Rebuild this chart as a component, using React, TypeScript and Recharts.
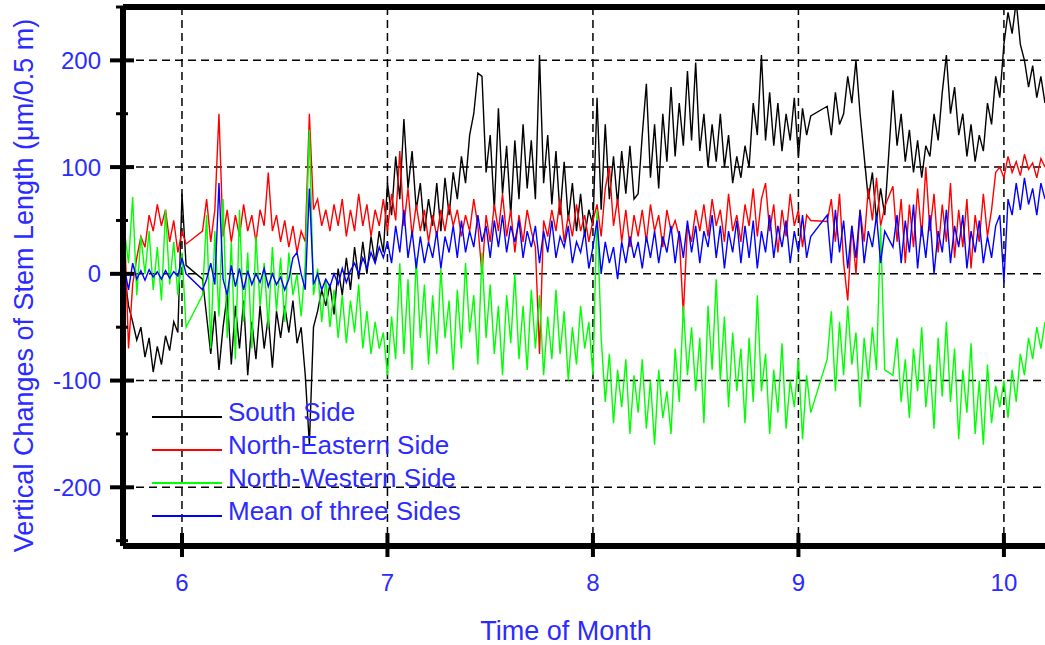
import { LineChart, Line, XAxis, YAxis, CartesianGrid, ReferenceLine, Legend } from 'recharts';

// sample times (month), one reading every 0.02 month from 5.72 to 10.20
const TIME = Array.from({ length: 225 }, (_, i) => Math.round((5.72 + i * 0.02) * 100) / 100);

// each row = half a month (25 samples); null = missing reading
const SOUTH = [
  0, -30, -45, -62, -50, -78, -60, -92, -68, -85, -58, -72, -45, -55, 75, 8, null, null, null, -5, -40, -75, -35, -90, -50,
  -20, -85, -30, -70, -25, -95, -45, -80, -30, -70, -40, -88, -35, -60, -30, -55, -25, -65, -50, -95, -160, -50, -35, -15, -30,
  -10, -38, 5, -20, 15, -15, 25, -5, 30, 0, 35, 10, 40, 20, 85, 55, 110, 70, 145, 80, 115, 60, 85, 40, 70,
  45, 85, 40, 90, 55, 95, 70, 110, 85, 130, 150, 188, 185, 95, 130, 60, 155, 75, 120, 55, 125, 70, 140, 80, 125,
  70, 205, 85, 130, 65, 115, 55, 105, 50, 85, 40, 75, 35, 60, 45, 165, 60, 140, 70, 110, 65, 115, 75, 120, 70,
  75, 130, 178, 90, 140, 80, 150, 105, 175, 110, 160, 120, 190, 125, 198, 115, 150, 100, 140, 105, 150, 100, 130, 85, 110,
  90, 120, 100, 160, 130, 205, 125, 170, 120, 160, 115, 150, 125, 165, 110, 155, 130, 148, null, null, null, 157, 130, 170, 140,
  150, 185, 160, 200, 150, 110, 70, 95, 50, 80, 55, null, 172, 120, 150, 105, 135, 95, 125, 90, 120, 110, 150, 125, 170,
  205, 150, 175, 130, 150, 110, 140, 105, 130, 115, 160, 140, 185, 165, 215, 245, 225, 255, 215, 200, 175, 195, 165, 185, 160,
];

const NORTH_EAST = [
  45, -70, -10, 15, 35, 25, 55, 40, 65, 45, 60, 30, 50, 20, 40, 28, null, null, null, 40, 70, 30, 60, 150, 35,
  60, 30, 55, 35, 65, 40, 55, 30, 60, 45, 95, 40, 55, 30, 50, 25, 45, 20, 40, 30, 150, 60, 70, 45, 60,
  40, 65, 45, 70, 35, 60, 40, 75, 45, 65, 35, 60, 45, 70, 40, 75, 50, 115, 45, 80, 35, 65, 40, 60, 30,
  55, 35, 60, 40, 65, 45, 60, 35, 55, 40, 70, 45, 0, 55, 30, 65, 40, 75, 35, 60, 20, 55, 30, 60, 40,
  25, -75, 50, 35, 60, 40, 70, 30, 55, 35, 65, 40, 55, 30, 50, 65, 35, 80, 100, 45, 70, 30, 60, 25, 55,
  35, 60, 30, 65, 40, 55, 25, 60, 40, 50, 35, -38, 45, 30, 60, 40, 65, 35, 70, 45, 60, 30, 75, 40, 55,
  30, 65, 45, 80, 35, 70, 85, 40, 65, 20, 60, 35, 75, 45, 60, 25, 55, 50, null, null, null, 49, 70, 30, 75,
  10, -25, 45, 0, 60, 30, 80, 50, 90, 45, 63, null, 82, 30, 70, 10, 65, 25, 80, 35, 100, 40, 75, 20, 65,
  30, 85, 15, 60, 25, 70, 5, 55, 30, 75, 35, 60, 95, 100, 90, 110, 95, 105, 92, 112, 98, 104, 90, 108, 100,
];

const NORTH_WEST = [
  40, 10, 72, -20, 35, 0, 40, -15, 25, -25, 60, -10, 30, -20, 20, -50, null, null, null, -20, 55, -70, 40, -40, 70,
  -60, 30, -80, 60, -45, 20, -70, 35, -30, 10, -50, 25, -35, 15, -45, 20, -20, 0, -40, 10, 135, -20, 5, -45, -5,
  -50, -15, -60, -20, -65, -25, -55, -10, -70, -35, -75, -45, -70, -55, -95, -40, -80, 10, -75, -5, -90, 15, -60, -10, -85,
  -20, -75, 5, -60, -25, -90, -15, -70, 10, -55, -20, -85, 20, -60, -10, -75, -30, -95, -20, -65, 0, -80, -30, -90, -15,
  -70, -20, -95, -40, -80, -15, -75, -35, -100, -50, -85, -30, -70, -45, -95, 60, -60, -120, -75, -140, -90, -125, -80, -150, -95,
  -130, -80, -145, -100, -160, -90, -135, -110, -150, -70, -120, -30, -95, -50, -110, -60, -140, -30, -90, -5, -100, -40, -125, -55, -110,
  -70, -140, -60, -120, -20, -110, -75, -150, -90, -130, -65, -145, -100, -125, -80, -155, -95, -130, null, null, null, -80, -35, -110, -45,
  -95, -30, -85, -55, -125, -60, -100, -50, -90, 45, -90, null, -95, -60, -120, -80, -135, -70, -110, -50, -125, -85, -145, -60, -115,
  -45, -120, -70, -155, -90, -130, -65, -150, -100, -160, -85, -140, -105, -125, -100, -135, -90, -120, -75, -95, -60, -80, -50, -70, -45,
];

const MEAN = [
  5, -15, 10, -5, 3, -6, 4, -3, 2, -5, 3, -4, 2, -2, 15, 0, null, null, null, -15, -5, 10, -10, 85, -5,
  -20, 8, -12, 5, -15, 3, -10, 0, -8, 5, -12, 0, -10, -3, -15, -5, 15, 20, 0, -15, 80, -10, 0, -15, -5,
  -12, 0, -10, 5, -8, 3, 10, 0, 15, 5, 20, 10, 25, 15, 30, 10, 45, 20, 60, 15, 40, 5, 35, 10, 30,
  15, 40, 5, 35, 20, 45, 15, 50, 20, 40, 25, 55, 30, 45, 15, 50, 25, 55, 20, 45, 30, 50, 15, 40, 25,
  45, 10, 40, 20, 50, 15, 35, 25, 45, 10, 30, 20, 40, 5, 25, 50, 0, 30, 10, 25, -5, 30, 10, 35, 15,
  30, 5, 35, 15, 40, 10, 35, 20, 45, 10, 40, 15, 50, 20, 45, 10, 40, 25, 55, 15, 45, 5, 40, 20, 50,
  10, 45, 15, 50, 5, 40, 20, 55, 15, 45, 25, 50, 10, 40, 20, 55, 15, 35, null, null, null, 55, 10, 60, 20,
  50, 5, 45, 15, 60, 10, 40, 25, 55, 10, 40, null, 25, 55, 10, 50, 20, 65, 5, 45, 15, 55, 0, 40, 20,
  60, 10, 45, 25, 55, 5, 40, 20, 50, 10, 35, 15, 45, 55, -8, 70, 55, 85, 60, 90, 65, 80, 55, 85, 70,
];

const SERIES_NAMES = ['South Side', 'North-Eastern Side', 'North-Western Side', 'Mean of three Sides'];
const X_TICKS = [6, 7, 8, 9, 10];
const Y_MAJOR = [-200, -100, 0, 100, 200];
const Y_TICKS = [-250, -200, -150, -100, -50, 0, 50, 100, 150, 200, 250];

const data = TIME.map((t, i) => ({
  t,
  south: SOUTH[i],
  ne: NORTH_EAST[i],
  nw: NORTH_WEST[i],
  mean: MEAN[i],
}));

const BLUE_TEXT = '#2b2bff';
const FONT = '"Liberation Sans", Arial, sans-serif';

function YTick({ x, y, payload }: any) {
  const major = Y_MAJOR.includes(payload.value);
  return (
    <g>
      {major ? (
        <line x1={x - 13} x2={x + 11} y1={y} y2={y} stroke="#000" strokeWidth={4} />
      ) : (
        <line x1={x - 7} x2={x + 5} y1={y} y2={y} stroke="#000" strokeWidth={3} />
      )}
      {major && (
        <text x={x - 22} y={y} dy="0.36em" textAnchor="end" fill={BLUE_TEXT} fontSize={24}>
          {payload.value}
        </text>
      )}
    </g>
  );
}

function XTick({ x, y, payload }: any) {
  return (
    <g>
      <line x1={x} x2={x} y1={y - 13} y2={y + 11} stroke="#000" strokeWidth={4} />
      <text x={x} y={y + 36} dy="0.36em" textAnchor="middle" fill={BLUE_TEXT} fontSize={24}>
        {payload.value}
      </text>
    </g>
  );
}

function YTitle({ viewBox }: any) {
  const cx = viewBox.x + 23;
  const cy = viewBox.y + viewBox.height / 2 + 9;
  return (
    <text x={cx} y={cy} transform={`rotate(-90 ${cx} ${cy})`} textAnchor="middle" dy="0.36em" fill={BLUE_TEXT} fontSize={27}>
      Vertical Changes of Stem Length (μm/0.5 m)
    </text>
  );
}

function XTitle({ viewBox }: any) {
  return (
    <text x={viewBox.x + 443} y={viewBox.y + 84} textAnchor="middle" dy="0.36em" fill={BLUE_TEXT} fontSize={27}>
      Time of Month
    </text>
  );
}

function LegendBox({ payload }: any) {
  const items = [...(payload ?? [])].sort(
    (a: any, b: any) => SERIES_NAMES.indexOf(a.value) - SERIES_NAMES.indexOf(b.value)
  );
  return (
    <div style={{ fontFamily: FONT }}>
      {items.map((e: any) => (
        <div key={e.value} style={{ display: 'flex', alignItems: 'center', height: 33 }}>
          <svg width={76} height={10} style={{ marginTop: 8 }}>
            <line x1={0} x2={70} y1={5} y2={5} stroke={e.color} strokeWidth={2} />
          </svg>
          <span style={{ color: BLUE_TEXT, fontSize: 26, lineHeight: '33px', whiteSpace: 'nowrap' }}>{e.value}</span>
        </div>
      ))}
    </div>
  );
}

export default function App() {
  return (
    <div style={{ position: 'absolute', left: 0, top: 0, background: '#fff' }}>
      <LineChart
        width={1045}
        height={645}
        data={data}
        margin={{ top: 7, right: 0, bottom: 0, left: 0 }}
        style={{ fontFamily: FONT }}
      >
        <CartesianGrid
          stroke="#000"
          strokeDasharray="8 5"
          strokeWidth={1.5}
          horizontalValues={Y_MAJOR}
          verticalValues={X_TICKS}
        />
        <XAxis
          dataKey="t"
          type="number"
          domain={[5.713, 10.2]}
          ticks={X_TICKS}
          interval={0}
          allowDataOverflow
          height={99}
          tickSize={0}
          tickMargin={0}
          tickLine={false}
          axisLine={{ stroke: '#000', strokeWidth: 6 }}
          tick={(p: any) => <XTick {...p} />}
          label={(p: any) => <XTitle {...p} />}
        />
        <YAxis
          type="number"
          domain={[-255, 250]}
          ticks={Y_TICKS}
          interval={0}
          allowDataOverflow
          width={123}
          tickSize={0}
          tickMargin={0}
          tickLine={false}
          axisLine={{ stroke: '#000', strokeWidth: 6 }}
          tick={(p: any) => <YTick {...p} />}
          label={(p: any) => <YTitle {...p} />}
        />
        <ReferenceLine y={250} stroke="#000" strokeWidth={6} />
        <Line dataKey="south" name={SERIES_NAMES[0]} stroke="#000000" strokeWidth={1.4} dot={false} connectNulls isAnimationActive={false} />
        <Line dataKey="ne" name={SERIES_NAMES[1]} stroke="#ff0000" strokeWidth={1.4} dot={false} connectNulls isAnimationActive={false} />
        <Line dataKey="nw" name={SERIES_NAMES[2]} stroke="#00ff00" strokeWidth={1.4} dot={false} connectNulls isAnimationActive={false} />
        <Line dataKey="mean" name={SERIES_NAMES[3]} stroke="#0000ff" strokeWidth={1.4} dot={false} connectNulls isAnimationActive={false} />
        <Legend
          layout="vertical"
          align="center"
          verticalAlign="middle"
          wrapperStyle={{ left: 152, top: 396, width: 'auto' }}
          content={(p: any) => <LegendBox {...p} />}
        />
      </LineChart>
    </div>
  );
}
